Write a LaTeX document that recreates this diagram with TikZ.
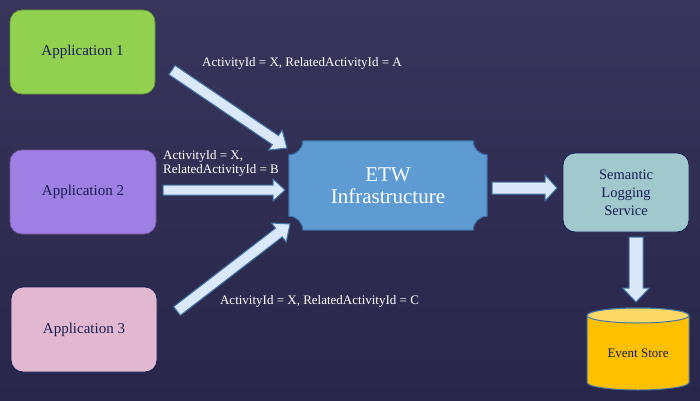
\documentclass[tikz,border=0pt]{standalone}
\usepackage{fontspec}
\setmainfont{Liberation Serif}
\usetikzlibrary{calc,backgrounds}
\definecolor{bgtop}{RGB}{56,53,92}
\definecolor{bgbot}{RGB}{40,38,74}
\definecolor{appgreen}{RGB}{146,208,80}
\definecolor{apppurple}{RGB}{158,128,228}
\definecolor{apppink}{RGB}{226,184,208}
\definecolor{etwblue}{RGB}{93,155,210}
\definecolor{etwedge}{RGB}{62,112,165}
\definecolor{slsteal}{RGB}{160,200,205}
\definecolor{navytext}{RGB}{22,30,82}
\definecolor{arrfill}{RGB}{218,232,250}
\definecolor{arredge}{RGB}{66,118,168}
\definecolor{esyellow}{RGB}{255,192,0}
\definecolor{estop}{RGB}{255,217,102}
\newcommand\blockarr[5]{%
  \coordinate (bh) at ($(#2)!#5!(#1)$);
  \draw[barrow] ($(#1)!#3!90:(#2)$) -- ($(bh)!#3!-90:(#1)$) -- ($(bh)!#4!-90:(#1)$)
    -- (#2) -- ($(bh)!#4!90:(#1)$) -- ($(bh)!#3!90:(#1)$) -- ($(#1)!#3!-90:(#2)$) -- cycle;}
\begin{document}
\begin{tikzpicture}[x=1pt,y=1pt,
  appbox/.style={rectangle, rounded corners=12pt, line width=0.8pt,
    text=navytext, font=\fontsize{15}{18}\selectfont, inner sep=0pt},
  barrow/.style={fill=arrfill, draw=arredge, line width=1pt, line join=miter},
  lbl/.style={text=white, font=\fontsize{13}{15}\selectfont, inner sep=0pt}]
\useasboundingbox (0,0) rectangle (700,400);

% application boxes
\node[appbox, fill=appgreen, draw=appgreen!70!black, minimum width=145pt, minimum height=84pt] (app1) at (82.5,348) {Application 1};
\node[appbox, fill=apppurple, draw=apppurple!70!black, minimum width=146pt, minimum height=84pt] (app2) at (83,208) {Application 2};
\node[appbox, fill=apppink, draw=navytext, minimum width=146pt, minimum height=85pt] (app3) at (84,70.5) {Application 3};

% ETW (text only; plaque drawn on background layer)
\node[minimum width=198pt, minimum height=89pt, inner sep=0pt, align=center, text=white,
  font=\fontsize{21}{22}\selectfont] (etw) at (388,214.5) {ETW\\Infrastructure};

% Semantic Logging Service
\node[appbox, fill=slsteal, draw=navytext, minimum width=126pt, minimum height=79pt,
  align=center, font=\fontsize{14.5}{18}\selectfont] (sls) at (626,207.5) {Semantic\\Logging\\Service};

% Event store text (cylinder drawn on background layer)
\node[text=navytext, font=\fontsize{13}{15}\selectfont, inner sep=0pt] (es) at (638,47) {Event Store};

% labels
\node[lbl] (la) at (302,337) {ActivityId = X, RelatedActivityId = A};
\node[lbl, anchor=west, align=left, font=\fontsize{13}{14}\selectfont] (lb) at (163,237) {ActivityId = X,\\RelatedActivityId = B};
\node[lbl] (lc) at (319.5,99) {ActivityId = X, RelatedActivityId = C};

% arrow end points
\coordinate (a1t) at (172,330);
\coordinate (a1h) at (287,252);
\coordinate (a2t) at (163,210);
\coordinate (a2h) at (285,210);
\coordinate (a3t) at (177,89);
\coordinate (a3h) at (290,176);
\coordinate (e1t) at (492,212);
\coordinate (e1h) at (557,212);
\coordinate (v1t) at (636,163);
\coordinate (v1h) at (636,98);

\blockarr{a1t}{a1h}{5.5pt}{12pt}{14pt}
\blockarr{a2t}{a2h}{5pt}{11pt}{12pt}
\blockarr{a3t}{a3h}{5.5pt}{12pt}{14pt}
\blockarr{e1t}{e1h}{6pt}{13pt}{12pt}
\blockarr{v1t}{v1h}{7pt}{13.5pt}{14pt}

\begin{pgfonlayer}{background}
  \shade[top color=bgtop, bottom color=bgbot] (0,0) rectangle (700,400);
  % ETW plaque
  \draw[fill=etwblue, draw=etwedge, line width=1pt]
    ([yshift=14pt]etw.south west) -- ([yshift=-14pt]etw.north west)
    arc[start angle=270, end angle=360, radius=14pt]
    -- ([xshift=-14pt]etw.north east)
    arc[start angle=180, end angle=270, radius=14pt]
    -- ([yshift=14pt]etw.south east)
    arc[start angle=90, end angle=180, radius=14pt]
    -- ([xshift=14pt]etw.south west)
    arc[start angle=0, end angle=90, radius=14pt] -- cycle;
  % cylinder
  \draw[fill=esyellow, draw=arredge, line width=1pt]
    (587,84.5) -- (587,17.5) arc[start angle=180, end angle=360, x radius=51pt, y radius=7.5pt]
    -- (689,84.5) arc[start angle=0, end angle=180, x radius=51pt, y radius=7.5pt] -- cycle;
  \draw[fill=estop, draw=arredge, line width=1pt] (638,84.5) ellipse[x radius=51pt, y radius=7.5pt];
\end{pgfonlayer}
\end{tikzpicture}
\end{document}
